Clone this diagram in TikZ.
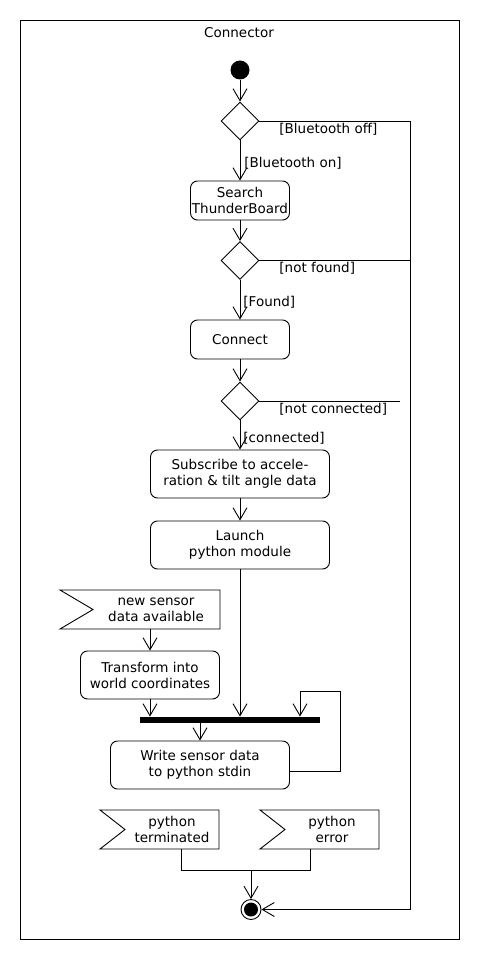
\documentclass[tikz,border=0pt]{standalone}
\usepackage{fontspec}
\setmainfont{DejaVu Sans}
\usetikzlibrary{shapes.geometric,arrows.meta}

\begin{document}
\begin{tikzpicture}[x=1pt, y=-1pt, line width=0.9pt,
                    >={Straight Barb[length=12pt,width=14pt]},
                    every node/.style={font=\fontsize{13.5}{16}\selectfont},
                    action node/.style={rectangle,draw,rounded corners=7pt,align=center,inner sep=0pt},
                    decision node/.style={diamond,draw,minimum size=38pt,inner sep=0pt},
                    signal text/.style={align=center,minimum height=39pt,inner sep=0pt},
                    guard/.style={anchor=west,inner sep=0pt}]

  \useasboundingbox (0,0) rectangle (480,960);
  \draw (20,20) rectangle (459,939);
  \node (t) at (239,33) {Connector};

  \node[circle,fill,minimum size=19pt,inner sep=0pt] (1) at (240,70) {};
  \node[decision node] (2) at (240,121) {};
  \node[action node,minimum width=99pt,minimum height=39pt] (3) at (240,200.5) {Search\\ThunderBoard};
  \node[decision node] (4) at (240,260.5) {};
  \node[action node,minimum width=99pt,minimum height=39pt] (5) at (240,339.5) {Connect};
  \node[decision node] (6) at (240,401) {};
  \node[action node,minimum width=179pt,minimum height=48pt] (7) at (240,474) {Subscribe to accele-\\ration \& tilt angle data};
  \node[action node,minimum width=179pt,minimum height=48pt] (8) at (240,545) {Launch\\python module};
  \node[signal text] (9) at (156,609.5) {new sensor\\data available};
  \node[action node,minimum width=139pt,minimum height=48pt] (10) at (150,675) {Transform into\\world coordinates};
  \node[fill,minimum width=180pt,minimum height=6pt,inner sep=0pt] (11) at (230,720) {};
  \node[action node,minimum width=179pt,minimum height=48pt] (12) at (200,765) {Write sensor data\\to python stdin};
  \node[signal text] (13) at (172,829.5) {python\\terminated};
  \node[signal text] (14) at (332,829.5) {python\\error};
  \node[circle,draw,minimum size=20pt,inner sep=0pt,
        path picture={\fill (path picture bounding box.center) circle (7pt);}] (15) at (251,909.5) {};

  % receive signal outlines
  \draw (60,590) -- (220,590) -- (220,629) -- (60,629) -- (93,609.5) -- cycle;
  \draw (100,810) -- (219,810) -- (219,849) -- (100,849) -- (125,829.5) -- cycle;
  \draw (260,810) -- (379,810) -- (379,849) -- (260,849) -- (285,829.5) -- cycle;

  \coordinate (r) at (410,909.5);
  \coordinate (nc) at (400,401);
  \coordinate (lp) at (340,691);
  \coordinate (j) at (251,870);

  \path[->] (1) edge (2);
  \path[->] (2) edge (3);
  \path[->] (3) edge (4);
  \path[->] (4) edge (5);
  \path[->] (5) edge (6);
  \path[->] (6) edge (7);
  \path[->] (7) edge (8);
  \draw[->] (8.south) -- (8.south |- 11.north);
  \draw[->] (10.north |- 9.south) -- (10.north);
  \draw[->] (10.south) -- (10.south |- 11.north);
  \draw[->] (11.south -| 12.north) -- (12.north);
  \draw[->] ([yshift=-6pt]12.east) -| (lp) -| ([xshift=70pt]11.north);
  \draw[->] (2.east) -- (2.east -| r) -- (r) -- (15);
  \draw (4.east) -- (4.east -| r);
  \draw (6.east) -- (nc);
  \draw ([xshift=9pt]13.south) |- (j) -| ([xshift=-22pt]14.south);
  \draw[->] (j) -- (15);

  \node[guard] (g1) at (279,129) {[Bluetooth off]};
  \node[guard] (g2) at (244,163) {[Bluetooth on]};
  \node[guard] (g3) at (279,268) {[not found]};
  \node[guard] (g4) at (243,302) {[Found]};
  \node[guard] (g5) at (279,409) {[not connected]};
  \node[guard] (g6) at (243,438) {[connected]};

\end{tikzpicture}
\end{document}
